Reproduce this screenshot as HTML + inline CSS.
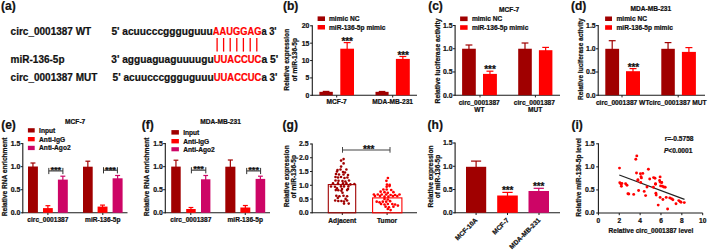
<!DOCTYPE html>
<html><head><meta charset="utf-8"><style>
html,body{margin:0;padding:0;background:#fff;}
svg{display:block;font-family:"Liberation Sans", sans-serif;}
</style></head><body>
<svg width="709" height="251" viewBox="0 0 709 251">
<rect width="709" height="251" fill="#fff"/>
<text x="1.00" y="9.80" font-size="12.0" text-anchor="start" font-weight="bold" fill="#111" stroke="#111" stroke-width="0.22" >(a)</text>
<text x="10.60" y="34.50" font-size="10" text-anchor="start" font-weight="bold" fill="#111" stroke="#111" stroke-width="0.22" >circ_0001387 WT</text>
<text x="10.60" y="62.80" font-size="10" text-anchor="start" font-weight="bold" fill="#111" stroke="#111" stroke-width="0.22" >miR-136-5p</text>
<text x="10.60" y="81.00" font-size="10" text-anchor="start" font-weight="bold" fill="#111" stroke="#111" stroke-width="0.22" >circ_0001387 MUT</text>
<text x="111.4" y="34.6" font-size="10" font-weight="bold" fill="#111" stroke="#111" stroke-width="0.22" textLength="101.40" lengthAdjust="spacingAndGlyphs">5' acuucccggguguuu</text>
<text x="212.8" y="34.6" font-size="10" font-weight="bold" fill="#ff0000" stroke="#ff0000" stroke-width="0.22" textLength="48.60" lengthAdjust="spacingAndGlyphs">AAUGGAG</text>
<text x="261.4" y="34.6" font-size="10" font-weight="bold" fill="#111" stroke="#111" stroke-width="0.22" textLength="15.20" lengthAdjust="spacingAndGlyphs">a 3'</text>
<text x="111.3" y="62.8" font-size="10" font-weight="bold" fill="#111" stroke="#111" stroke-width="0.22" textLength="102.40" lengthAdjust="spacingAndGlyphs">3' agguaguaguuuugu</text>
<text x="213.7" y="62.8" font-size="10" font-weight="bold" fill="#ff0000" stroke="#ff0000" stroke-width="0.22" textLength="47.70" lengthAdjust="spacingAndGlyphs">UUACCUC</text>
<text x="261.4" y="62.8" font-size="10" font-weight="bold" fill="#111" stroke="#111" stroke-width="0.22" textLength="16.80" lengthAdjust="spacingAndGlyphs">a 5'</text>
<text x="112.6" y="81.2" font-size="10" font-weight="bold" fill="#111" stroke="#111" stroke-width="0.22" textLength="101.10" lengthAdjust="spacingAndGlyphs">5' acuucccggguguuu</text>
<text x="213.7" y="81.2" font-size="10" font-weight="bold" fill="#ff0000" stroke="#ff0000" stroke-width="0.22" textLength="47.70" lengthAdjust="spacingAndGlyphs">UUACCUC</text>
<text x="261.4" y="81.2" font-size="10" font-weight="bold" fill="#111" stroke="#111" stroke-width="0.22" textLength="16.00" lengthAdjust="spacingAndGlyphs">a 3'</text>
<line x1="217.10" y1="38.00" x2="217.10" y2="51.60" stroke="#ff0000" stroke-width="1.3"/>
<line x1="223.60" y1="38.00" x2="223.60" y2="51.60" stroke="#ff0000" stroke-width="1.3"/>
<line x1="230.20" y1="38.00" x2="230.20" y2="51.60" stroke="#ff0000" stroke-width="1.3"/>
<line x1="236.80" y1="38.00" x2="236.80" y2="51.60" stroke="#ff0000" stroke-width="1.3"/>
<line x1="243.40" y1="38.00" x2="243.40" y2="51.60" stroke="#ff0000" stroke-width="1.3"/>
<line x1="250.20" y1="38.00" x2="250.20" y2="51.60" stroke="#ff0000" stroke-width="1.3"/>
<line x1="256.80" y1="38.00" x2="256.80" y2="51.60" stroke="#ff0000" stroke-width="1.3"/>
<text x="283.00" y="9.80" font-size="12.0" text-anchor="start" font-weight="bold" fill="#111" stroke="#111" stroke-width="0.22" >(b)</text>
<line x1="312.30" y1="25.30" x2="312.30" y2="95.80" stroke="#1a1a1a" stroke-width="1.1"/>
<line x1="310.10" y1="95.30" x2="312.30" y2="95.30" stroke="#1a1a1a" stroke-width="1.0"/>
<text x="309.30" y="97.78" font-size="6.9" text-anchor="end" font-weight="bold" fill="#111" stroke="#111" stroke-width="0.22" >0</text>
<line x1="310.10" y1="77.92" x2="312.30" y2="77.92" stroke="#1a1a1a" stroke-width="1.0"/>
<text x="309.30" y="80.41" font-size="6.9" text-anchor="end" font-weight="bold" fill="#111" stroke="#111" stroke-width="0.22" >5</text>
<line x1="310.10" y1="60.55" x2="312.30" y2="60.55" stroke="#1a1a1a" stroke-width="1.0"/>
<text x="309.30" y="63.03" font-size="6.9" text-anchor="end" font-weight="bold" fill="#111" stroke="#111" stroke-width="0.22" >10</text>
<line x1="310.10" y1="43.17" x2="312.30" y2="43.17" stroke="#1a1a1a" stroke-width="1.0"/>
<text x="309.30" y="45.66" font-size="6.9" text-anchor="end" font-weight="bold" fill="#111" stroke="#111" stroke-width="0.22" >15</text>
<line x1="310.10" y1="25.80" x2="312.30" y2="25.80" stroke="#1a1a1a" stroke-width="1.0"/>
<text x="309.30" y="28.28" font-size="6.9" text-anchor="end" font-weight="bold" fill="#111" stroke="#111" stroke-width="0.22" >20</text>
<line x1="311.80" y1="95.30" x2="417.00" y2="95.30" stroke="#1a1a1a" stroke-width="1.1"/>
<line x1="336.70" y1="95.30" x2="336.70" y2="97.50" stroke="#1a1a1a" stroke-width="1.0"/>
<line x1="392.70" y1="95.30" x2="392.70" y2="97.50" stroke="#1a1a1a" stroke-width="1.0"/>
<line x1="326.10" y1="91.41" x2="326.10" y2="92.83" stroke="#a00000" stroke-width="1.2"/>
<line x1="322.75" y1="91.41" x2="329.45" y2="91.41" stroke="#a00000" stroke-width="1.2"/>
<rect x="319.40" y="91.83" width="13.40" height="3.47" fill="#a00000"/>
<line x1="347.15" y1="42.60" x2="347.15" y2="49.70" stroke="#ff0000" stroke-width="1.2"/>
<line x1="343.72" y1="42.60" x2="350.57" y2="42.60" stroke="#ff0000" stroke-width="1.2"/>
<rect x="340.30" y="48.70" width="13.70" height="46.60" fill="#ff0000"/>
<line x1="382.05" y1="91.48" x2="382.05" y2="92.83" stroke="#a00000" stroke-width="1.2"/>
<line x1="378.77" y1="91.48" x2="385.33" y2="91.48" stroke="#a00000" stroke-width="1.2"/>
<rect x="375.50" y="91.83" width="13.10" height="3.47" fill="#a00000"/>
<line x1="402.85" y1="56.50" x2="402.85" y2="59.90" stroke="#ff0000" stroke-width="1.2"/>
<line x1="399.38" y1="56.50" x2="406.33" y2="56.50" stroke="#ff0000" stroke-width="1.2"/>
<rect x="395.90" y="58.90" width="13.90" height="36.40" fill="#ff0000"/>
<text x="347.20" y="44.60" font-size="10" text-anchor="middle" font-weight="bold" fill="#111" stroke="#111" stroke-width="0.22" letter-spacing="-0.1">***</text>
<text x="403.10" y="58.60" font-size="10" text-anchor="middle" font-weight="bold" fill="#111" stroke="#111" stroke-width="0.22" letter-spacing="-0.1">***</text>
<rect x="317.60" y="16.40" width="7.40" height="4.60" fill="#a00000"/>
<rect x="317.60" y="25.00" width="7.40" height="4.50" fill="#ff0000"/>
<text x="329.00" y="21.10" font-size="6.6" text-anchor="start" font-weight="bold" fill="#111" stroke="#111" stroke-width="0.22" >mimic NC</text>
<text x="329.00" y="29.60" font-size="6.6" text-anchor="start" font-weight="bold" fill="#111" stroke="#111" stroke-width="0.22" >miR-136-5p mimic</text>
<text transform="translate(287.00,59.80) rotate(-90)" x="0" y="2.38" font-size="6.6" text-anchor="middle" font-weight="bold" fill="#111" stroke="#111" stroke-width="0.22">Relative expression</text>
<text transform="translate(295.00,59.80) rotate(-90)" x="0" y="2.38" font-size="6.6" text-anchor="middle" font-weight="bold" fill="#111" stroke="#111" stroke-width="0.22">of miR-136-5p</text>
<text x="336.70" y="103.80" font-size="6.6" text-anchor="middle" font-weight="bold" fill="#111" stroke="#111" stroke-width="0.22" >MCF-7</text>
<text x="392.70" y="103.80" font-size="6.6" text-anchor="middle" font-weight="bold" fill="#111" stroke="#111" stroke-width="0.22" >MDA-MB-231</text>
<text x="428.20" y="9.80" font-size="12.0" text-anchor="start" font-weight="bold" fill="#111" stroke="#111" stroke-width="0.22" >(c)</text>
<text x="509.20" y="11.90" font-size="6.6" text-anchor="middle" font-weight="bold" fill="#111" stroke="#111" stroke-width="0.22" >MCF-7</text>
<line x1="455.10" y1="25.00" x2="455.10" y2="95.70" stroke="#1a1a1a" stroke-width="1.1"/>
<line x1="452.90" y1="95.20" x2="455.10" y2="95.20" stroke="#1a1a1a" stroke-width="1.0"/>
<text x="452.60" y="97.68" font-size="6.9" text-anchor="end" font-weight="bold" fill="#111" stroke="#111" stroke-width="0.22" >0.0</text>
<line x1="452.90" y1="71.97" x2="455.10" y2="71.97" stroke="#1a1a1a" stroke-width="1.0"/>
<text x="452.60" y="74.45" font-size="6.9" text-anchor="end" font-weight="bold" fill="#111" stroke="#111" stroke-width="0.22" >0.5</text>
<line x1="452.90" y1="48.73" x2="455.10" y2="48.73" stroke="#1a1a1a" stroke-width="1.0"/>
<text x="452.60" y="51.22" font-size="6.9" text-anchor="end" font-weight="bold" fill="#111" stroke="#111" stroke-width="0.22" >1.0</text>
<line x1="452.90" y1="25.50" x2="455.10" y2="25.50" stroke="#1a1a1a" stroke-width="1.0"/>
<text x="452.60" y="27.98" font-size="6.9" text-anchor="end" font-weight="bold" fill="#111" stroke="#111" stroke-width="0.22" >1.5</text>
<line x1="454.60" y1="95.20" x2="560.00" y2="95.20" stroke="#1a1a1a" stroke-width="1.1"/>
<line x1="480.00" y1="95.20" x2="480.00" y2="97.40" stroke="#1a1a1a" stroke-width="1.0"/>
<line x1="535.40" y1="95.20" x2="535.40" y2="97.40" stroke="#1a1a1a" stroke-width="1.0"/>
<line x1="468.95" y1="45.00" x2="468.95" y2="49.73" stroke="#a00000" stroke-width="1.2"/>
<line x1="465.53" y1="45.00" x2="472.38" y2="45.00" stroke="#a00000" stroke-width="1.2"/>
<rect x="462.10" y="48.73" width="13.70" height="46.47" fill="#a00000"/>
<line x1="489.95" y1="71.20" x2="489.95" y2="74.90" stroke="#ff0000" stroke-width="1.2"/>
<line x1="486.48" y1="71.20" x2="493.42" y2="71.20" stroke="#ff0000" stroke-width="1.2"/>
<rect x="483.00" y="73.90" width="13.90" height="21.30" fill="#ff0000"/>
<line x1="525.00" y1="43.00" x2="525.00" y2="49.73" stroke="#a00000" stroke-width="1.2"/>
<line x1="521.60" y1="43.00" x2="528.40" y2="43.00" stroke="#a00000" stroke-width="1.2"/>
<rect x="518.20" y="48.73" width="13.60" height="46.47" fill="#a00000"/>
<line x1="545.65" y1="47.40" x2="545.65" y2="51.20" stroke="#ff0000" stroke-width="1.2"/>
<line x1="542.27" y1="47.40" x2="549.02" y2="47.40" stroke="#ff0000" stroke-width="1.2"/>
<rect x="538.90" y="50.20" width="13.50" height="45.00" fill="#ff0000"/>
<text x="490.00" y="73.40" font-size="10" text-anchor="middle" font-weight="bold" fill="#111" stroke="#111" stroke-width="0.22" letter-spacing="-0.1">***</text>
<rect x="460.10" y="16.50" width="7.50" height="4.60" fill="#a00000"/>
<rect x="460.10" y="25.20" width="7.50" height="4.60" fill="#ff0000"/>
<text x="471.90" y="21.20" font-size="6.6" text-anchor="start" font-weight="bold" fill="#111" stroke="#111" stroke-width="0.22" >mimic NC</text>
<text x="471.90" y="29.90" font-size="6.6" text-anchor="start" font-weight="bold" fill="#111" stroke="#111" stroke-width="0.22" >miR-136-5p mimic</text>
<text transform="translate(437.40,61.00) rotate(-90)" x="0" y="2.38" font-size="6.6" text-anchor="middle" font-weight="bold" fill="#111" stroke="#111" stroke-width="0.22" textLength="85" lengthAdjust="spacingAndGlyphs">Relative luciferase activity</text>
<text x="479.20" y="104.60" font-size="6.6" text-anchor="middle" font-weight="bold" fill="#111" stroke="#111" stroke-width="0.22" >circ_0001387</text>
<text x="479.30" y="112.20" font-size="6.6" text-anchor="middle" font-weight="bold" fill="#111" stroke="#111" stroke-width="0.22" >WT</text>
<text x="534.40" y="104.60" font-size="6.6" text-anchor="middle" font-weight="bold" fill="#111" stroke="#111" stroke-width="0.22" >circ_0001387</text>
<text x="535.20" y="112.20" font-size="6.6" text-anchor="middle" font-weight="bold" fill="#111" stroke="#111" stroke-width="0.22" >MUT</text>
<text x="571.00" y="9.80" font-size="12.0" text-anchor="start" font-weight="bold" fill="#111" stroke="#111" stroke-width="0.22" >(d)</text>
<text x="630.50" y="11.40" font-size="6.6" text-anchor="start" font-weight="bold" fill="#111" stroke="#111" stroke-width="0.22" >MDA-MB-231</text>
<line x1="598.20" y1="25.10" x2="598.20" y2="95.70" stroke="#1a1a1a" stroke-width="1.1"/>
<line x1="596.00" y1="95.20" x2="598.20" y2="95.20" stroke="#1a1a1a" stroke-width="1.0"/>
<text x="595.70" y="97.68" font-size="6.9" text-anchor="end" font-weight="bold" fill="#111" stroke="#111" stroke-width="0.22" >0.0</text>
<line x1="596.00" y1="72.00" x2="598.20" y2="72.00" stroke="#1a1a1a" stroke-width="1.0"/>
<text x="595.70" y="74.48" font-size="6.9" text-anchor="end" font-weight="bold" fill="#111" stroke="#111" stroke-width="0.22" >0.5</text>
<line x1="596.00" y1="48.80" x2="598.20" y2="48.80" stroke="#1a1a1a" stroke-width="1.0"/>
<text x="595.70" y="51.28" font-size="6.9" text-anchor="end" font-weight="bold" fill="#111" stroke="#111" stroke-width="0.22" >1.0</text>
<line x1="596.00" y1="25.60" x2="598.20" y2="25.60" stroke="#1a1a1a" stroke-width="1.0"/>
<text x="595.70" y="28.08" font-size="6.9" text-anchor="end" font-weight="bold" fill="#111" stroke="#111" stroke-width="0.22" >1.5</text>
<line x1="597.70" y1="95.20" x2="705.00" y2="95.20" stroke="#1a1a1a" stroke-width="1.1"/>
<line x1="622.00" y1="95.20" x2="622.00" y2="97.40" stroke="#1a1a1a" stroke-width="1.0"/>
<line x1="678.20" y1="95.20" x2="678.20" y2="97.40" stroke="#1a1a1a" stroke-width="1.0"/>
<line x1="612.20" y1="40.70" x2="612.20" y2="49.80" stroke="#a00000" stroke-width="1.2"/>
<line x1="608.75" y1="40.70" x2="615.65" y2="40.70" stroke="#a00000" stroke-width="1.2"/>
<rect x="605.30" y="48.80" width="13.80" height="46.40" fill="#a00000"/>
<line x1="633.00" y1="68.60" x2="633.00" y2="72.20" stroke="#ff0000" stroke-width="1.2"/>
<line x1="629.50" y1="68.60" x2="636.50" y2="68.60" stroke="#ff0000" stroke-width="1.2"/>
<rect x="626.00" y="71.20" width="14.00" height="24.00" fill="#ff0000"/>
<line x1="668.05" y1="42.60" x2="668.05" y2="49.80" stroke="#a00000" stroke-width="1.2"/>
<line x1="664.67" y1="42.60" x2="671.42" y2="42.60" stroke="#a00000" stroke-width="1.2"/>
<rect x="661.30" y="48.80" width="13.50" height="46.40" fill="#a00000"/>
<line x1="688.90" y1="47.60" x2="688.90" y2="52.90" stroke="#ff0000" stroke-width="1.2"/>
<line x1="685.40" y1="47.60" x2="692.40" y2="47.60" stroke="#ff0000" stroke-width="1.2"/>
<rect x="681.90" y="51.90" width="14.00" height="43.30" fill="#ff0000"/>
<text x="633.40" y="71.30" font-size="10" text-anchor="middle" font-weight="bold" fill="#111" stroke="#111" stroke-width="0.22" letter-spacing="-0.1">***</text>
<rect x="605.10" y="16.50" width="6.90" height="4.50" fill="#a00000"/>
<rect x="605.10" y="25.20" width="6.90" height="4.60" fill="#ff0000"/>
<text x="616.50" y="20.50" font-size="6.6" text-anchor="start" font-weight="bold" fill="#111" stroke="#111" stroke-width="0.22" >mimic NC</text>
<text x="616.50" y="30.30" font-size="6.6" text-anchor="start" font-weight="bold" fill="#111" stroke="#111" stroke-width="0.22" >miR-136-5p mimic</text>
<text transform="translate(580.60,59.20) rotate(-90)" x="0" y="2.38" font-size="6.6" text-anchor="middle" font-weight="bold" fill="#111" stroke="#111" stroke-width="0.22" textLength="81.5" lengthAdjust="spacingAndGlyphs">Relative luciferase activity</text>
<text x="595.90" y="104.70" font-size="6.6" text-anchor="start" font-weight="bold" fill="#111" stroke="#111" stroke-width="0.22" textLength="110.7" lengthAdjust="spacingAndGlyphs">circ_0001387 WTcirc_0001387 MUT</text>
<text x="1.20" y="128.80" font-size="12.0" text-anchor="start" font-weight="bold" fill="#111" stroke="#111" stroke-width="0.22" >(e)</text>
<text x="75.20" y="124.10" font-size="6.6" text-anchor="middle" font-weight="bold" fill="#111" stroke="#111" stroke-width="0.22" >MCF-7</text>
<line x1="22.80" y1="143.10" x2="22.80" y2="213.30" stroke="#1a1a1a" stroke-width="1.1"/>
<line x1="20.60" y1="212.80" x2="22.80" y2="212.80" stroke="#1a1a1a" stroke-width="1.0"/>
<text x="20.30" y="215.28" font-size="6.9" text-anchor="end" font-weight="bold" fill="#111" stroke="#111" stroke-width="0.22" >0.0</text>
<line x1="20.60" y1="189.73" x2="22.80" y2="189.73" stroke="#1a1a1a" stroke-width="1.0"/>
<text x="20.30" y="192.22" font-size="6.9" text-anchor="end" font-weight="bold" fill="#111" stroke="#111" stroke-width="0.22" >0.5</text>
<line x1="20.60" y1="166.67" x2="22.80" y2="166.67" stroke="#1a1a1a" stroke-width="1.0"/>
<text x="20.30" y="169.15" font-size="6.9" text-anchor="end" font-weight="bold" fill="#111" stroke="#111" stroke-width="0.22" >1.0</text>
<line x1="20.60" y1="143.60" x2="22.80" y2="143.60" stroke="#1a1a1a" stroke-width="1.0"/>
<text x="20.30" y="146.08" font-size="6.9" text-anchor="end" font-weight="bold" fill="#111" stroke="#111" stroke-width="0.22" >1.5</text>
<line x1="22.30" y1="212.80" x2="127.50" y2="212.80" stroke="#1a1a1a" stroke-width="1.1"/>
<line x1="47.90" y1="212.80" x2="47.90" y2="215.00" stroke="#1a1a1a" stroke-width="1.0"/>
<line x1="102.80" y1="212.80" x2="102.80" y2="215.00" stroke="#1a1a1a" stroke-width="1.0"/>
<line x1="32.95" y1="163.00" x2="32.95" y2="167.50" stroke="#a00000" stroke-width="1.2"/>
<line x1="30.48" y1="163.00" x2="35.43" y2="163.00" stroke="#a00000" stroke-width="1.2"/>
<rect x="28.00" y="166.50" width="9.90" height="46.30" fill="#a00000"/>
<line x1="47.90" y1="205.70" x2="47.90" y2="209.10" stroke="#ff0000" stroke-width="1.2"/>
<line x1="45.45" y1="205.70" x2="50.35" y2="205.70" stroke="#ff0000" stroke-width="1.2"/>
<rect x="43.00" y="208.10" width="9.80" height="4.70" fill="#ff0000"/>
<line x1="62.85" y1="176.20" x2="62.85" y2="180.60" stroke="#cd0566" stroke-width="1.2"/>
<line x1="60.37" y1="176.20" x2="65.32" y2="176.20" stroke="#cd0566" stroke-width="1.2"/>
<rect x="57.90" y="179.60" width="9.90" height="33.20" fill="#cd0566"/>
<line x1="87.85" y1="161.20" x2="87.85" y2="167.70" stroke="#a00000" stroke-width="1.2"/>
<line x1="85.42" y1="161.20" x2="90.27" y2="161.20" stroke="#a00000" stroke-width="1.2"/>
<rect x="83.00" y="166.70" width="9.70" height="46.10" fill="#a00000"/>
<line x1="102.55" y1="205.10" x2="102.55" y2="207.60" stroke="#ff0000" stroke-width="1.2"/>
<line x1="100.07" y1="205.10" x2="105.03" y2="205.10" stroke="#ff0000" stroke-width="1.2"/>
<rect x="97.60" y="206.60" width="9.90" height="6.20" fill="#ff0000"/>
<line x1="117.60" y1="175.50" x2="117.60" y2="179.30" stroke="#cd0566" stroke-width="1.2"/>
<line x1="115.10" y1="175.50" x2="120.10" y2="175.50" stroke="#cd0566" stroke-width="1.2"/>
<rect x="112.60" y="178.30" width="10.00" height="34.50" fill="#cd0566"/>
<line x1="48.80" y1="170.90" x2="62.90" y2="170.90" stroke="#555" stroke-width="1.3"/>
<line x1="48.80" y1="167.90" x2="48.80" y2="174.10" stroke="#333" stroke-width="1.0"/>
<line x1="62.90" y1="167.90" x2="62.90" y2="174.10" stroke="#333" stroke-width="1.0"/>
<text x="55.85" y="173.19" font-size="9.4" text-anchor="middle" font-weight="bold" fill="#111" stroke="#111" stroke-width="0.22" letter-spacing="-0.1">***</text>
<line x1="103.50" y1="170.20" x2="117.40" y2="170.20" stroke="#555" stroke-width="1.3"/>
<line x1="103.50" y1="167.20" x2="103.50" y2="173.40" stroke="#333" stroke-width="1.0"/>
<line x1="117.40" y1="167.20" x2="117.40" y2="173.40" stroke="#333" stroke-width="1.0"/>
<text x="110.45" y="172.59" font-size="9.4" text-anchor="middle" font-weight="bold" fill="#111" stroke="#111" stroke-width="0.22" letter-spacing="-0.1">***</text>
<rect x="27.90" y="128.20" width="6.80" height="4.30" fill="#a00000"/>
<text x="39.10" y="132.73" font-size="6.6" text-anchor="start" font-weight="bold" fill="#111" stroke="#111" stroke-width="0.22" >Input</text>
<rect x="27.90" y="137.00" width="6.80" height="4.30" fill="#ff0000"/>
<text x="39.10" y="141.53" font-size="6.6" text-anchor="start" font-weight="bold" fill="#111" stroke="#111" stroke-width="0.22" >Anti-IgG</text>
<rect x="27.90" y="145.80" width="6.80" height="4.30" fill="#cd0566"/>
<text x="39.10" y="150.33" font-size="6.6" text-anchor="start" font-weight="bold" fill="#111" stroke="#111" stroke-width="0.22" >Anti-Ago2</text>
<text x="47.90" y="221.80" font-size="6.6" text-anchor="middle" font-weight="bold" fill="#111" stroke="#111" stroke-width="0.22" >circ_0001387</text>
<text x="102.80" y="221.80" font-size="6.6" text-anchor="middle" font-weight="bold" fill="#111" stroke="#111" stroke-width="0.22" >miR-136-5p</text>
<text transform="translate(4.60,176.90) rotate(-90)" x="0" y="2.38" font-size="6.6" text-anchor="middle" font-weight="bold" fill="#111" stroke="#111" stroke-width="0.22">Relative RNA enrichment</text>
<text x="141.80" y="128.80" font-size="12.0" text-anchor="start" font-weight="bold" fill="#111" stroke="#111" stroke-width="0.22" >(f)</text>
<text x="200.20" y="124.00" font-size="6.6" text-anchor="start" font-weight="bold" fill="#111" stroke="#111" stroke-width="0.22" >MDA-MB-231</text>
<line x1="165.30" y1="143.10" x2="165.30" y2="213.30" stroke="#1a1a1a" stroke-width="1.1"/>
<line x1="163.10" y1="212.80" x2="165.30" y2="212.80" stroke="#1a1a1a" stroke-width="1.0"/>
<text x="162.80" y="215.28" font-size="6.9" text-anchor="end" font-weight="bold" fill="#111" stroke="#111" stroke-width="0.22" >0.0</text>
<line x1="163.10" y1="189.73" x2="165.30" y2="189.73" stroke="#1a1a1a" stroke-width="1.0"/>
<text x="162.80" y="192.22" font-size="6.9" text-anchor="end" font-weight="bold" fill="#111" stroke="#111" stroke-width="0.22" >0.5</text>
<line x1="163.10" y1="166.67" x2="165.30" y2="166.67" stroke="#1a1a1a" stroke-width="1.0"/>
<text x="162.80" y="169.15" font-size="6.9" text-anchor="end" font-weight="bold" fill="#111" stroke="#111" stroke-width="0.22" >1.0</text>
<line x1="163.10" y1="143.60" x2="165.30" y2="143.60" stroke="#1a1a1a" stroke-width="1.0"/>
<text x="162.80" y="146.08" font-size="6.9" text-anchor="end" font-weight="bold" fill="#111" stroke="#111" stroke-width="0.22" >1.5</text>
<line x1="164.80" y1="212.80" x2="270.00" y2="212.80" stroke="#1a1a1a" stroke-width="1.1"/>
<line x1="190.80" y1="212.80" x2="190.80" y2="215.00" stroke="#1a1a1a" stroke-width="1.0"/>
<line x1="245.25" y1="212.80" x2="245.25" y2="215.00" stroke="#1a1a1a" stroke-width="1.0"/>
<line x1="175.95" y1="160.20" x2="175.95" y2="167.60" stroke="#a00000" stroke-width="1.2"/>
<line x1="173.57" y1="160.20" x2="178.32" y2="160.20" stroke="#a00000" stroke-width="1.2"/>
<rect x="171.20" y="166.60" width="9.50" height="46.20" fill="#a00000"/>
<line x1="190.95" y1="207.50" x2="190.95" y2="210.00" stroke="#ff0000" stroke-width="1.2"/>
<line x1="188.57" y1="207.50" x2="193.32" y2="207.50" stroke="#ff0000" stroke-width="1.2"/>
<rect x="186.20" y="209.00" width="9.50" height="3.80" fill="#ff0000"/>
<line x1="205.70" y1="175.50" x2="205.70" y2="180.30" stroke="#cd0566" stroke-width="1.2"/>
<line x1="203.35" y1="175.50" x2="208.05" y2="175.50" stroke="#cd0566" stroke-width="1.2"/>
<rect x="201.00" y="179.30" width="9.40" height="33.50" fill="#cd0566"/>
<line x1="230.35" y1="160.00" x2="230.35" y2="167.70" stroke="#a00000" stroke-width="1.2"/>
<line x1="227.83" y1="160.00" x2="232.88" y2="160.00" stroke="#a00000" stroke-width="1.2"/>
<rect x="225.30" y="166.70" width="10.10" height="46.10" fill="#a00000"/>
<line x1="245.35" y1="205.50" x2="245.35" y2="208.50" stroke="#ff0000" stroke-width="1.2"/>
<line x1="242.88" y1="205.50" x2="247.83" y2="205.50" stroke="#ff0000" stroke-width="1.2"/>
<rect x="240.40" y="207.50" width="9.90" height="5.30" fill="#ff0000"/>
<line x1="260.40" y1="176.20" x2="260.40" y2="179.90" stroke="#cd0566" stroke-width="1.2"/>
<line x1="258.00" y1="176.20" x2="262.80" y2="176.20" stroke="#cd0566" stroke-width="1.2"/>
<rect x="255.60" y="178.90" width="9.60" height="33.90" fill="#cd0566"/>
<line x1="191.40" y1="170.20" x2="205.80" y2="170.20" stroke="#555" stroke-width="1.3"/>
<line x1="191.40" y1="167.20" x2="191.40" y2="173.40" stroke="#333" stroke-width="1.0"/>
<line x1="205.80" y1="167.20" x2="205.80" y2="173.40" stroke="#333" stroke-width="1.0"/>
<text x="198.60" y="172.19" font-size="9.4" text-anchor="middle" font-weight="bold" fill="#111" stroke="#111" stroke-width="0.22" letter-spacing="-0.1">***</text>
<line x1="246.70" y1="170.90" x2="260.60" y2="170.90" stroke="#555" stroke-width="1.3"/>
<line x1="246.70" y1="167.90" x2="246.70" y2="174.10" stroke="#333" stroke-width="1.0"/>
<line x1="260.60" y1="167.90" x2="260.60" y2="174.10" stroke="#333" stroke-width="1.0"/>
<text x="253.65" y="172.89" font-size="9.4" text-anchor="middle" font-weight="bold" fill="#111" stroke="#111" stroke-width="0.22" letter-spacing="-0.1">***</text>
<rect x="171.40" y="130.10" width="7.50" height="4.50" fill="#a00000"/>
<text x="183.20" y="134.73" font-size="6.6" text-anchor="start" font-weight="bold" fill="#111" stroke="#111" stroke-width="0.22" >Input</text>
<rect x="171.40" y="139.00" width="7.50" height="4.40" fill="#ff0000"/>
<text x="183.20" y="143.58" font-size="6.6" text-anchor="start" font-weight="bold" fill="#111" stroke="#111" stroke-width="0.22" >Anti-IgG</text>
<rect x="171.40" y="147.20" width="7.50" height="4.10" fill="#cd0566"/>
<text x="183.20" y="151.63" font-size="6.6" text-anchor="start" font-weight="bold" fill="#111" stroke="#111" stroke-width="0.22" >Anti-Ago2</text>
<text x="190.80" y="221.80" font-size="6.6" text-anchor="middle" font-weight="bold" fill="#111" stroke="#111" stroke-width="0.22" >circ_0001387</text>
<text x="245.25" y="221.80" font-size="6.6" text-anchor="middle" font-weight="bold" fill="#111" stroke="#111" stroke-width="0.22" >miR-136-5p</text>
<text transform="translate(147.00,176.90) rotate(-90)" x="0" y="2.38" font-size="6.6" text-anchor="middle" font-weight="bold" fill="#111" stroke="#111" stroke-width="0.22">Relative RNA enrichment</text>
<text x="282.60" y="128.80" font-size="12.0" text-anchor="start" font-weight="bold" fill="#111" stroke="#111" stroke-width="0.22" >(g)</text>
<line x1="312.20" y1="143.50" x2="312.20" y2="213.30" stroke="#1a1a1a" stroke-width="1.1"/>
<line x1="310.00" y1="212.80" x2="312.20" y2="212.80" stroke="#1a1a1a" stroke-width="1.0"/>
<text x="308.50" y="215.28" font-size="6.9" text-anchor="end" font-weight="bold" fill="#111" stroke="#111" stroke-width="0.22" >0.0</text>
<line x1="310.00" y1="199.04" x2="312.20" y2="199.04" stroke="#1a1a1a" stroke-width="1.0"/>
<text x="308.50" y="201.52" font-size="6.9" text-anchor="end" font-weight="bold" fill="#111" stroke="#111" stroke-width="0.22" >0.5</text>
<line x1="310.00" y1="185.28" x2="312.20" y2="185.28" stroke="#1a1a1a" stroke-width="1.0"/>
<text x="308.50" y="187.76" font-size="6.9" text-anchor="end" font-weight="bold" fill="#111" stroke="#111" stroke-width="0.22" >1.0</text>
<line x1="310.00" y1="171.52" x2="312.20" y2="171.52" stroke="#1a1a1a" stroke-width="1.0"/>
<text x="308.50" y="174.00" font-size="6.9" text-anchor="end" font-weight="bold" fill="#111" stroke="#111" stroke-width="0.22" >1.5</text>
<line x1="310.00" y1="157.76" x2="312.20" y2="157.76" stroke="#1a1a1a" stroke-width="1.0"/>
<text x="308.50" y="160.24" font-size="6.9" text-anchor="end" font-weight="bold" fill="#111" stroke="#111" stroke-width="0.22" >2.0</text>
<line x1="310.00" y1="144.00" x2="312.20" y2="144.00" stroke="#1a1a1a" stroke-width="1.0"/>
<text x="308.50" y="146.48" font-size="6.9" text-anchor="end" font-weight="bold" fill="#111" stroke="#111" stroke-width="0.22" >2.5</text>
<line x1="311.70" y1="212.80" x2="417.00" y2="212.80" stroke="#1a1a1a" stroke-width="1.1"/>
<line x1="342.30" y1="212.80" x2="342.30" y2="215.00" stroke="#1a1a1a" stroke-width="1.0"/>
<line x1="387.10" y1="212.80" x2="387.10" y2="215.00" stroke="#1a1a1a" stroke-width="1.0"/>
<rect x="328.3" y="184.6" width="27.4" height="28.20" fill="none" stroke="#a00000" stroke-width="1.1"/>
<rect x="372.6" y="197.9" width="29.3" height="14.90" fill="none" stroke="#ff0000" stroke-width="1.1"/>
<circle cx="343.60" cy="159.10" r="1.3" fill="#a00000"/>
<circle cx="341.10" cy="160.60" r="1.3" fill="#a00000"/>
<circle cx="343.60" cy="163.40" r="1.3" fill="#a00000"/>
<circle cx="341.10" cy="166.60" r="1.3" fill="#a00000"/>
<circle cx="337.50" cy="170.00" r="1.3" fill="#a00000"/>
<circle cx="340.50" cy="169.50" r="1.3" fill="#a00000"/>
<circle cx="346.40" cy="169.50" r="1.3" fill="#a00000"/>
<circle cx="337.00" cy="171.50" r="1.3" fill="#a00000"/>
<circle cx="343.00" cy="172.00" r="1.3" fill="#a00000"/>
<circle cx="345.00" cy="172.50" r="1.3" fill="#a00000"/>
<circle cx="336.00" cy="174.00" r="1.3" fill="#a00000"/>
<circle cx="339.00" cy="174.50" r="1.3" fill="#a00000"/>
<circle cx="343.50" cy="174.50" r="1.3" fill="#a00000"/>
<circle cx="348.00" cy="175.00" r="1.3" fill="#a00000"/>
<circle cx="335.50" cy="177.00" r="1.3" fill="#a00000"/>
<circle cx="338.00" cy="177.50" r="1.3" fill="#a00000"/>
<circle cx="341.00" cy="177.00" r="1.3" fill="#a00000"/>
<circle cx="344.50" cy="178.00" r="1.3" fill="#a00000"/>
<circle cx="347.40" cy="177.50" r="1.3" fill="#a00000"/>
<circle cx="335.50" cy="180.50" r="1.3" fill="#a00000"/>
<circle cx="338.50" cy="180.80" r="1.3" fill="#a00000"/>
<circle cx="342.50" cy="181.00" r="1.3" fill="#a00000"/>
<circle cx="345.40" cy="181.50" r="1.3" fill="#a00000"/>
<circle cx="349.00" cy="180.50" r="1.3" fill="#a00000"/>
<circle cx="333.00" cy="183.40" r="1.3" fill="#a00000"/>
<circle cx="338.00" cy="183.40" r="1.3" fill="#a00000"/>
<circle cx="343.00" cy="183.40" r="1.3" fill="#a00000"/>
<circle cx="346.40" cy="183.40" r="1.3" fill="#a00000"/>
<circle cx="350.40" cy="184.40" r="1.3" fill="#a00000"/>
<circle cx="354.40" cy="184.00" r="1.3" fill="#a00000"/>
<circle cx="341.00" cy="186.40" r="1.3" fill="#a00000"/>
<circle cx="344.00" cy="186.40" r="1.3" fill="#a00000"/>
<circle cx="348.40" cy="186.40" r="1.3" fill="#a00000"/>
<circle cx="335.00" cy="186.80" r="1.3" fill="#a00000"/>
<circle cx="331.00" cy="186.50" r="1.3" fill="#a00000"/>
<circle cx="337.00" cy="188.40" r="1.3" fill="#a00000"/>
<circle cx="342.00" cy="189.00" r="1.3" fill="#a00000"/>
<circle cx="348.00" cy="189.00" r="1.3" fill="#a00000"/>
<circle cx="335.80" cy="190.10" r="1.3" fill="#a00000"/>
<circle cx="338.30" cy="190.30" r="1.3" fill="#a00000"/>
<circle cx="341.40" cy="190.70" r="1.3" fill="#a00000"/>
<circle cx="347.10" cy="190.10" r="1.3" fill="#a00000"/>
<circle cx="342.50" cy="192.70" r="1.3" fill="#a00000"/>
<circle cx="336.30" cy="195.80" r="1.3" fill="#a00000"/>
<circle cx="339.40" cy="196.30" r="1.3" fill="#a00000"/>
<circle cx="343.50" cy="195.80" r="1.3" fill="#a00000"/>
<circle cx="347.10" cy="196.30" r="1.3" fill="#a00000"/>
<circle cx="337.80" cy="197.90" r="1.3" fill="#a00000"/>
<circle cx="345.60" cy="198.90" r="1.3" fill="#a00000"/>
<circle cx="335.20" cy="200.50" r="1.3" fill="#a00000"/>
<circle cx="338.30" cy="201.00" r="1.3" fill="#a00000"/>
<circle cx="341.40" cy="201.00" r="1.3" fill="#a00000"/>
<circle cx="344.00" cy="201.50" r="1.3" fill="#a00000"/>
<circle cx="347.10" cy="200.50" r="1.3" fill="#a00000"/>
<circle cx="344.00" cy="203.60" r="1.3" fill="#a00000"/>
<circle cx="348.70" cy="203.60" r="1.3" fill="#a00000"/>
<circle cx="387.90" cy="178.00" r="1.35" fill="#ff0000"/>
<circle cx="386.40" cy="180.80" r="1.35" fill="#ff0000"/>
<circle cx="387.00" cy="184.60" r="1.35" fill="#ff0000"/>
<circle cx="389.70" cy="184.90" r="1.35" fill="#ff0000"/>
<circle cx="386.70" cy="186.70" r="1.35" fill="#ff0000"/>
<circle cx="389.50" cy="186.10" r="1.35" fill="#ff0000"/>
<circle cx="383.40" cy="189.50" r="1.35" fill="#ff0000"/>
<circle cx="386.70" cy="189.50" r="1.35" fill="#ff0000"/>
<circle cx="391.20" cy="190.00" r="1.35" fill="#ff0000"/>
<circle cx="380.60" cy="191.70" r="1.35" fill="#ff0000"/>
<circle cx="384.50" cy="192.20" r="1.35" fill="#ff0000"/>
<circle cx="387.80" cy="192.80" r="1.35" fill="#ff0000"/>
<circle cx="393.40" cy="192.20" r="1.35" fill="#ff0000"/>
<circle cx="373.90" cy="194.50" r="1.35" fill="#ff0000"/>
<circle cx="377.80" cy="194.50" r="1.35" fill="#ff0000"/>
<circle cx="381.70" cy="194.50" r="1.35" fill="#ff0000"/>
<circle cx="386.20" cy="194.50" r="1.35" fill="#ff0000"/>
<circle cx="390.60" cy="195.00" r="1.35" fill="#ff0000"/>
<circle cx="395.10" cy="195.00" r="1.35" fill="#ff0000"/>
<circle cx="399.50" cy="194.50" r="1.35" fill="#ff0000"/>
<circle cx="375.00" cy="196.10" r="1.35" fill="#ff0000"/>
<circle cx="380.00" cy="196.10" r="1.35" fill="#ff0000"/>
<circle cx="384.50" cy="196.70" r="1.35" fill="#ff0000"/>
<circle cx="388.40" cy="196.70" r="1.35" fill="#ff0000"/>
<circle cx="392.90" cy="196.10" r="1.35" fill="#ff0000"/>
<circle cx="397.30" cy="196.10" r="1.35" fill="#ff0000"/>
<circle cx="384.50" cy="198.90" r="1.35" fill="#ff0000"/>
<circle cx="387.80" cy="199.50" r="1.35" fill="#ff0000"/>
<circle cx="376.70" cy="201.70" r="1.35" fill="#ff0000"/>
<circle cx="379.50" cy="202.30" r="1.35" fill="#ff0000"/>
<circle cx="382.80" cy="201.70" r="1.35" fill="#ff0000"/>
<circle cx="386.20" cy="201.70" r="1.35" fill="#ff0000"/>
<circle cx="390.10" cy="201.20" r="1.35" fill="#ff0000"/>
<circle cx="381.10" cy="204.00" r="1.35" fill="#ff0000"/>
<circle cx="384.50" cy="204.50" r="1.35" fill="#ff0000"/>
<circle cx="387.80" cy="204.00" r="1.35" fill="#ff0000"/>
<circle cx="392.30" cy="204.00" r="1.35" fill="#ff0000"/>
<circle cx="395.10" cy="204.50" r="1.35" fill="#ff0000"/>
<circle cx="397.90" cy="205.60" r="1.35" fill="#ff0000"/>
<circle cx="385.60" cy="206.70" r="1.35" fill="#ff0000"/>
<circle cx="388.90" cy="207.30" r="1.35" fill="#ff0000"/>
<circle cx="393.40" cy="206.70" r="1.35" fill="#ff0000"/>
<circle cx="387.80" cy="209.00" r="1.35" fill="#ff0000"/>
<circle cx="390.60" cy="210.10" r="1.35" fill="#ff0000"/>
<line x1="342.50" y1="150.00" x2="390.00" y2="150.00" stroke="#444" stroke-width="1.1"/>
<line x1="342.50" y1="147.00" x2="342.50" y2="152.70" stroke="#444" stroke-width="1.0"/>
<line x1="390.00" y1="147.00" x2="390.00" y2="152.70" stroke="#444" stroke-width="1.0"/>
<text x="368.70" y="152.70" font-size="10" text-anchor="middle" font-weight="bold" fill="#111" stroke="#111" stroke-width="0.22" letter-spacing="-0.1">***</text>
<text transform="translate(286.60,176.30) rotate(-90)" x="0" y="2.38" font-size="6.6" text-anchor="middle" font-weight="bold" fill="#111" stroke="#111" stroke-width="0.22">Relative expression</text>
<text transform="translate(293.60,176.80) rotate(-90)" x="0" y="2.38" font-size="6.6" text-anchor="middle" font-weight="bold" fill="#111" stroke="#111" stroke-width="0.22">of miR-136-5p</text>
<text x="342.30" y="222.60" font-size="6.6" text-anchor="middle" font-weight="bold" fill="#111" stroke="#111" stroke-width="0.22" >Adjacent</text>
<text x="387.10" y="222.60" font-size="6.6" text-anchor="middle" font-weight="bold" fill="#111" stroke="#111" stroke-width="0.22" >Tumor</text>
<text x="427.60" y="128.80" font-size="12.0" text-anchor="start" font-weight="bold" fill="#111" stroke="#111" stroke-width="0.22" >(h)</text>
<line x1="455.10" y1="142.50" x2="455.10" y2="213.30" stroke="#1a1a1a" stroke-width="1.1"/>
<line x1="452.90" y1="212.80" x2="455.10" y2="212.80" stroke="#1a1a1a" stroke-width="1.0"/>
<text x="452.60" y="215.28" font-size="6.9" text-anchor="end" font-weight="bold" fill="#111" stroke="#111" stroke-width="0.22" >0.0</text>
<line x1="452.90" y1="189.53" x2="455.10" y2="189.53" stroke="#1a1a1a" stroke-width="1.0"/>
<text x="452.60" y="192.02" font-size="6.9" text-anchor="end" font-weight="bold" fill="#111" stroke="#111" stroke-width="0.22" >0.5</text>
<line x1="452.90" y1="166.27" x2="455.10" y2="166.27" stroke="#1a1a1a" stroke-width="1.0"/>
<text x="452.60" y="168.75" font-size="6.9" text-anchor="end" font-weight="bold" fill="#111" stroke="#111" stroke-width="0.22" >1.0</text>
<line x1="452.90" y1="143.00" x2="455.10" y2="143.00" stroke="#1a1a1a" stroke-width="1.0"/>
<text x="452.60" y="145.48" font-size="6.9" text-anchor="end" font-weight="bold" fill="#111" stroke="#111" stroke-width="0.22" >1.5</text>
<line x1="454.60" y1="212.80" x2="560.00" y2="212.80" stroke="#1a1a1a" stroke-width="1.1"/>
<line x1="476.10" y1="212.80" x2="476.10" y2="215.00" stroke="#1a1a1a" stroke-width="1.0"/>
<line x1="507.50" y1="212.80" x2="507.50" y2="215.00" stroke="#1a1a1a" stroke-width="1.0"/>
<line x1="539.00" y1="212.80" x2="539.00" y2="215.00" stroke="#1a1a1a" stroke-width="1.0"/>
<line x1="476.10" y1="161.10" x2="476.10" y2="167.80" stroke="#a00000" stroke-width="1.2"/>
<line x1="471.05" y1="161.10" x2="481.15" y2="161.10" stroke="#a00000" stroke-width="1.2"/>
<rect x="466.00" y="166.80" width="20.20" height="46.00" fill="#a00000"/>
<line x1="507.50" y1="192.40" x2="507.50" y2="196.50" stroke="#ff0000" stroke-width="1.2"/>
<line x1="502.35" y1="192.40" x2="512.65" y2="192.40" stroke="#ff0000" stroke-width="1.2"/>
<rect x="497.20" y="195.50" width="20.60" height="17.30" fill="#ff0000"/>
<line x1="538.75" y1="188.30" x2="538.75" y2="192.00" stroke="#cd0566" stroke-width="1.2"/>
<line x1="533.62" y1="188.30" x2="543.88" y2="188.30" stroke="#cd0566" stroke-width="1.2"/>
<rect x="528.50" y="191.00" width="20.50" height="21.80" fill="#cd0566"/>
<text x="507.70" y="194.30" font-size="10" text-anchor="middle" font-weight="bold" fill="#111" stroke="#111" stroke-width="0.22" letter-spacing="-0.1">***</text>
<text x="538.70" y="190.40" font-size="10" text-anchor="middle" font-weight="bold" fill="#111" stroke="#111" stroke-width="0.22" letter-spacing="-0.1">***</text>
<text transform="translate(474.60,217.3) rotate(-45)" x="0" y="4.75" font-size="6.6" text-anchor="end" font-weight="bold" fill="#111" stroke="#111" stroke-width="0.22">MCF-10A</text>
<text transform="translate(506.00,217.3) rotate(-45)" x="0" y="4.75" font-size="6.6" text-anchor="end" font-weight="bold" fill="#111" stroke="#111" stroke-width="0.22">MCF-7</text>
<text transform="translate(537.50,217.3) rotate(-45)" x="0" y="4.75" font-size="6.6" text-anchor="end" font-weight="bold" fill="#111" stroke="#111" stroke-width="0.22">MDA-MB-231</text>
<text transform="translate(431.00,176.50) rotate(-90)" x="0" y="2.38" font-size="6.6" text-anchor="middle" font-weight="bold" fill="#111" stroke="#111" stroke-width="0.22">Relative expression</text>
<text transform="translate(437.50,176.50) rotate(-90)" x="0" y="2.38" font-size="6.6" text-anchor="middle" font-weight="bold" fill="#111" stroke="#111" stroke-width="0.22">of miR-136-5p</text>
<text x="571.50" y="128.80" font-size="12.0" text-anchor="start" font-weight="bold" fill="#111" stroke="#111" stroke-width="0.22" >(i)</text>
<line x1="598.40" y1="143.30" x2="598.40" y2="213.50" stroke="#1a1a1a" stroke-width="1.1"/>
<line x1="596.20" y1="213.00" x2="598.40" y2="213.00" stroke="#1a1a1a" stroke-width="1.0"/>
<text x="594.70" y="215.48" font-size="6.9" text-anchor="end" font-weight="bold" fill="#111" stroke="#111" stroke-width="0.22" >0.0</text>
<line x1="596.20" y1="189.93" x2="598.40" y2="189.93" stroke="#1a1a1a" stroke-width="1.0"/>
<text x="594.70" y="192.42" font-size="6.9" text-anchor="end" font-weight="bold" fill="#111" stroke="#111" stroke-width="0.22" >0.5</text>
<line x1="596.20" y1="166.87" x2="598.40" y2="166.87" stroke="#1a1a1a" stroke-width="1.0"/>
<text x="594.70" y="169.35" font-size="6.9" text-anchor="end" font-weight="bold" fill="#111" stroke="#111" stroke-width="0.22" >1.0</text>
<line x1="596.20" y1="143.80" x2="598.40" y2="143.80" stroke="#1a1a1a" stroke-width="1.0"/>
<text x="594.70" y="146.28" font-size="6.9" text-anchor="end" font-weight="bold" fill="#111" stroke="#111" stroke-width="0.22" >1.5</text>
<line x1="597.90" y1="213.00" x2="702.70" y2="213.00" stroke="#1a1a1a" stroke-width="1.1"/>
<line x1="598.40" y1="213.00" x2="598.40" y2="215.20" stroke="#1a1a1a" stroke-width="1.0"/>
<line x1="619.26" y1="213.00" x2="619.26" y2="215.20" stroke="#1a1a1a" stroke-width="1.0"/>
<line x1="640.12" y1="213.00" x2="640.12" y2="215.20" stroke="#1a1a1a" stroke-width="1.0"/>
<line x1="660.98" y1="213.00" x2="660.98" y2="215.20" stroke="#1a1a1a" stroke-width="1.0"/>
<line x1="681.84" y1="213.00" x2="681.84" y2="215.20" stroke="#1a1a1a" stroke-width="1.0"/>
<line x1="702.70" y1="213.00" x2="702.70" y2="215.20" stroke="#1a1a1a" stroke-width="1.0"/>
<text x="598.40" y="223.20" font-size="6.6" text-anchor="middle" font-weight="bold" fill="#111" stroke="#111" stroke-width="0.22" >0</text>
<text x="619.26" y="223.20" font-size="6.6" text-anchor="middle" font-weight="bold" fill="#111" stroke="#111" stroke-width="0.22" >2</text>
<text x="640.12" y="223.20" font-size="6.6" text-anchor="middle" font-weight="bold" fill="#111" stroke="#111" stroke-width="0.22" >4</text>
<text x="660.98" y="223.20" font-size="6.6" text-anchor="middle" font-weight="bold" fill="#111" stroke="#111" stroke-width="0.22" >6</text>
<text x="681.84" y="223.20" font-size="6.6" text-anchor="middle" font-weight="bold" fill="#111" stroke="#111" stroke-width="0.22" >8</text>
<text x="702.70" y="223.20" font-size="6.6" text-anchor="middle" font-weight="bold" fill="#111" stroke="#111" stroke-width="0.22" >10</text>
<text x="650.90" y="233.30" font-size="6.6" text-anchor="middle" font-weight="bold" fill="#111" stroke="#111" stroke-width="0.22" >Relative circ_0001387 level</text>
<text transform="translate(578.60,177.40) rotate(-90)" x="0" y="2.38" font-size="6.6" text-anchor="middle" font-weight="bold" fill="#111" stroke="#111" stroke-width="0.22" textLength="78.5" lengthAdjust="spacingAndGlyphs">Relative miR-136-5p level</text>
<text x="664.70" y="140.60" font-size="6.6" text-anchor="start" font-weight="bold" fill="#111" stroke="#111" stroke-width="0.22" >r=-0.5758</text>
<text x="663.9" y="152.6" font-size="6.6" font-weight="bold" fill="#111" stroke="#111" stroke-width="0.22"><tspan font-style="italic">P</tspan>&lt;0.0001</text>
<line x1="619.30" y1="175.00" x2="684.50" y2="199.40" stroke="#222" stroke-width="1.2"/>
<circle cx="636.80" cy="155.90" r="1.45" fill="#ff0000"/>
<circle cx="635.80" cy="159.30" r="1.45" fill="#ff0000"/>
<circle cx="619.50" cy="168.10" r="1.45" fill="#ff0000"/>
<circle cx="648.40" cy="169.20" r="1.45" fill="#ff0000"/>
<circle cx="636.50" cy="173.00" r="1.45" fill="#ff0000"/>
<circle cx="640.40" cy="173.70" r="1.45" fill="#ff0000"/>
<circle cx="642.80" cy="173.40" r="1.45" fill="#ff0000"/>
<circle cx="641.00" cy="176.80" r="1.45" fill="#ff0000"/>
<circle cx="641.40" cy="177.90" r="1.45" fill="#ff0000"/>
<circle cx="637.90" cy="179.70" r="1.45" fill="#ff0000"/>
<circle cx="649.70" cy="179.00" r="1.45" fill="#ff0000"/>
<circle cx="619.80" cy="182.80" r="1.45" fill="#ff0000"/>
<circle cx="621.90" cy="183.50" r="1.45" fill="#ff0000"/>
<circle cx="625.60" cy="183.80" r="1.45" fill="#ff0000"/>
<circle cx="640.70" cy="182.40" r="1.45" fill="#ff0000"/>
<circle cx="653.60" cy="177.60" r="1.45" fill="#ff0000"/>
<circle cx="655.00" cy="178.30" r="1.45" fill="#ff0000"/>
<circle cx="660.10" cy="176.90" r="1.45" fill="#ff0000"/>
<circle cx="659.60" cy="180.40" r="1.45" fill="#ff0000"/>
<circle cx="661.50" cy="182.40" r="1.45" fill="#ff0000"/>
<circle cx="655.50" cy="183.80" r="1.45" fill="#ff0000"/>
<circle cx="620.90" cy="183.90" r="1.45" fill="#ff0000"/>
<circle cx="621.40" cy="186.30" r="1.45" fill="#ff0000"/>
<circle cx="627.00" cy="185.30" r="1.45" fill="#ff0000"/>
<circle cx="637.90" cy="180.40" r="1.45" fill="#ff0000"/>
<circle cx="647.00" cy="187.00" r="1.45" fill="#ff0000"/>
<circle cx="627.90" cy="193.70" r="1.45" fill="#ff0000"/>
<circle cx="628.80" cy="194.00" r="1.45" fill="#ff0000"/>
<circle cx="633.70" cy="194.40" r="1.45" fill="#ff0000"/>
<circle cx="638.60" cy="190.50" r="1.45" fill="#ff0000"/>
<circle cx="644.20" cy="191.40" r="1.45" fill="#ff0000"/>
<circle cx="645.60" cy="195.60" r="1.45" fill="#ff0000"/>
<circle cx="653.40" cy="187.30" r="1.45" fill="#ff0000"/>
<circle cx="655.50" cy="184.20" r="1.45" fill="#ff0000"/>
<circle cx="660.10" cy="182.10" r="1.45" fill="#ff0000"/>
<circle cx="661.70" cy="182.50" r="1.45" fill="#ff0000"/>
<circle cx="660.60" cy="185.90" r="1.45" fill="#ff0000"/>
<circle cx="662.40" cy="186.30" r="1.45" fill="#ff0000"/>
<circle cx="663.80" cy="187.00" r="1.45" fill="#ff0000"/>
<circle cx="665.20" cy="187.30" r="1.45" fill="#ff0000"/>
<circle cx="655.90" cy="193.20" r="1.45" fill="#ff0000"/>
<circle cx="656.20" cy="195.10" r="1.45" fill="#ff0000"/>
<circle cx="660.10" cy="197.40" r="1.45" fill="#ff0000"/>
<circle cx="662.90" cy="199.50" r="1.45" fill="#ff0000"/>
<circle cx="666.20" cy="197.40" r="1.45" fill="#ff0000"/>
<circle cx="669.80" cy="197.90" r="1.45" fill="#ff0000"/>
<circle cx="671.50" cy="198.80" r="1.45" fill="#ff0000"/>
<circle cx="672.90" cy="199.80" r="1.45" fill="#ff0000"/>
<circle cx="676.00" cy="203.70" r="1.45" fill="#ff0000"/>
<circle cx="678.80" cy="200.60" r="1.45" fill="#ff0000"/>
<circle cx="680.10" cy="201.60" r="1.45" fill="#ff0000"/>
<circle cx="681.00" cy="202.30" r="1.45" fill="#ff0000"/>
<circle cx="684.30" cy="202.60" r="1.45" fill="#ff0000"/>
<circle cx="658.20" cy="205.10" r="1.45" fill="#ff0000"/>
<circle cx="667.60" cy="209.00" r="1.45" fill="#ff0000"/>
</svg>
</body></html>
